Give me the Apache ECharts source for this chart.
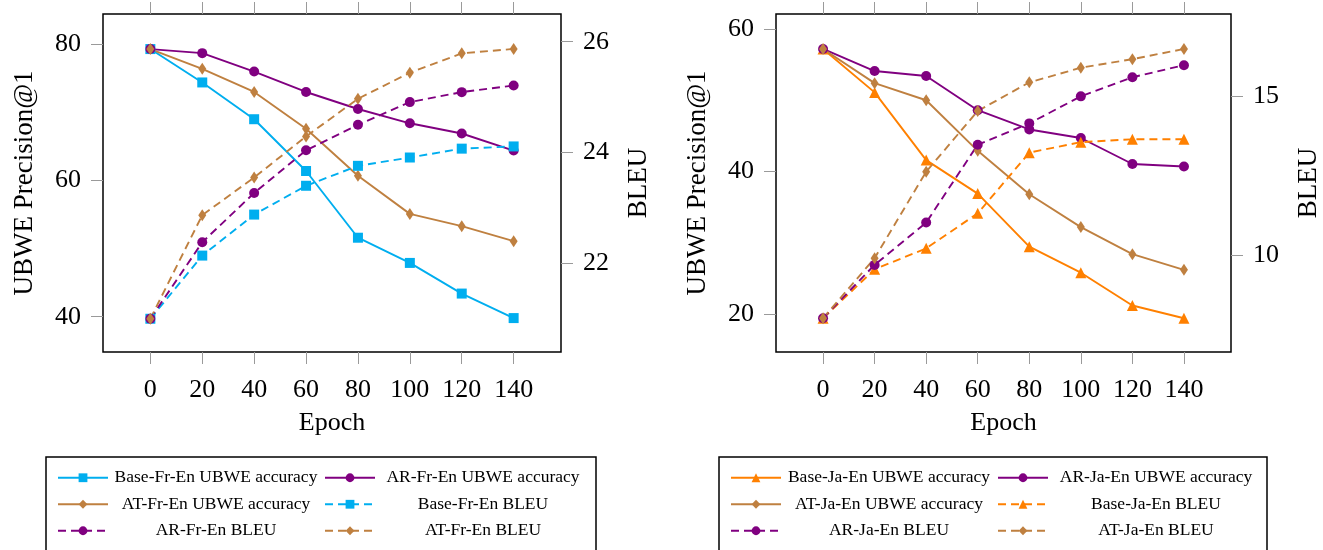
<!DOCTYPE html>
<html>
<head>
<meta charset="utf-8">
<script src="https://cdn.jsdelivr.net/npm/echarts@6/dist/echarts.min.js"></script>
<style>html,body{margin:0;padding:0;background:#fff;}#c{width:1323px;height:550px;}</style>
</head>
<body>
<div id="c"></div>
<script>
// ---- data ----
const epochs = [0, 20, 40, 60, 80, 100, 120, 140];
const xTicks = [0, 20, 40, 60, 80, 100, 120, 140];

const frBaseUBWE = [79.3, 74.4, 69.0, 61.4, 51.6, 47.9, 43.4, 39.8];
const frARUBWE   = [79.3, 78.7, 76.0, 73.0, 70.5, 68.4, 66.9, 64.4];
const frATUBWE   = [79.3, 76.4, 73.0, 67.6, 60.7, 55.1, 53.3, 51.1];
const frBaseBLEU = [21.0, 22.14, 22.88, 23.40, 23.76, 23.91, 24.07, 24.11];
const frARBLEU   = [21.0, 22.38, 23.27, 24.04, 24.50, 24.91, 25.09, 25.21];
const frATBLEU   = [21.0, 22.87, 23.55, 24.29, 24.97, 25.44, 25.79, 25.87];

const jaBaseUBWE = [57.2, 51.1, 41.6, 36.9, 29.45, 25.8, 21.2, 19.4];
const jaARUBWE   = [57.2, 54.1, 53.4, 48.6, 45.9, 44.7, 41.05, 40.7];
const jaATUBWE   = [57.2, 52.4, 50.0, 42.9, 36.8, 32.2, 28.4, 26.2];
const jaBaseBLEU = [8.03, 9.57, 10.23, 11.33, 13.24, 13.57, 13.66, 13.66];
const jaARBLEU   = [8.03, 9.71, 11.04, 13.49, 14.16, 15.01, 15.61, 15.99];
const jaATBLEU   = [8.03, 9.92, 12.64, 14.55, 15.45, 15.91, 16.18, 16.5];

const frLeftTicks = [40, 60, 80];
const frRightTicks = [22, 24, 26];
const jaLeftTicks = [20, 40, 60];
const jaRightTicks = [10, 15];

const frNames = ['Base-Fr-En UBWE accuracy', 'AR-Fr-En UBWE accuracy', 'AT-Fr-En UBWE accuracy',
                 'Base-Fr-En BLEU', 'AR-Fr-En BLEU', 'AT-Fr-En BLEU'];
const jaNames = ['Base-Ja-En UBWE accuracy', 'AR-Ja-En UBWE accuracy', 'AT-Ja-En UBWE accuracy',
                 'Base-Ja-En BLEU', 'AR-Ja-En BLEU', 'AT-Ja-En BLEU'];

// ---- styles ----
const C_BLUE = '#00AEEF', C_PURPLE = '#800080', C_BROWN = '#BF8040', C_ORANGE = '#FF8000';
const FONT = 'Liberation Serif';
const tickStyle = { color: '#9a9a9a', width: 1 };

function pairs(vals) { return epochs.map((e, i) => [e, vals[i]]); }

function mkSeries(name, vals, color, symbol, size, dashed, xi, yi) {
  return {
    type: 'line', name: name, data: pairs(vals),
    xAxisIndex: xi, yAxisIndex: yi,
    symbol: symbol, symbolSize: size,
    lineStyle: { color: color, width: 1.9, type: dashed ? [8, 5] : 'solid' },
    itemStyle: { color: color },
    emphasis: { disabled: true },
    animation: false
  };
}

function xAxes(grid) {
  const base = {
    gridIndex: grid, type: 'value', min: -18.25, max: 158.25,
    axisLine: { show: false, onZero: false }, splitLine: { show: false }
  };
  return [
    Object.assign({}, base, {
      position: 'bottom',
      axisTick: { show: true, length: 12, customValues: xTicks, lineStyle: tickStyle },
      axisLabel: { customValues: xTicks, margin: 25, fontSize: 26, fontFamily: FONT, color: '#000' },
      name: 'Epoch', nameLocation: 'middle', nameGap: 58,
      nameTextStyle: { fontSize: 26, fontFamily: FONT, color: '#000' }
    }),
    Object.assign({}, base, {
      position: 'top',
      axisTick: { show: true, length: 12, customValues: xTicks, lineStyle: tickStyle },
      axisLabel: { show: false }
    })
  ];
}

function yAxis(grid, pos, min, max, ticks, name, gap) {
  return {
    gridIndex: grid, type: 'value', position: pos, min: min, max: max,
    axisLine: { show: false, onZero: false }, splitLine: { show: false },
    axisTick: { show: true, length: 12, customValues: ticks, lineStyle: tickStyle },
    axisLabel: { customValues: ticks, margin: 22, fontSize: 26, fontFamily: FONT, color: '#000' },
    name: name, nameLocation: 'middle', nameGap: gap, nameRotate: 90,
    nameTextStyle: { fontSize: 27, fontFamily: FONT, color: '#000' }
  };
}

function legendCol(names, left) {
  return {
    data: names.map(n => ({ name: n })),
    left: left, top: 468.75,
    orient: 'vertical',
    itemWidth: 50, itemHeight: 11, itemGap: 8.5,
    padding: 0,
    selectedMode: false,
    formatter: n => '{t|' + n + '}',
    textStyle: {
      rich: { t: { width: 206, height: 18.5, align: 'center', fontSize: 17.5, fontFamily: FONT, color: '#000' } }
    }
  };
}

const option = {
  backgroundColor: '#fff',
  animation: false,
  grid: [
    { left: 103, right: 1323 - 561, top: 14, bottom: 550 - 352, show: true, borderColor: '#000', borderWidth: 1.5, containLabel: false },
    { left: 776, right: 1323 - 1232, top: 14, bottom: 550 - 352, show: true, borderColor: '#000', borderWidth: 1.5, containLabel: false }
  ],
  xAxis: [].concat(xAxes(0), xAxes(1)),
  yAxis: [
    yAxis(0, 'left', 34.82, 84.45, frLeftTicks, 'UBWE Precision@1', 65),
    yAxis(0, 'right', 20.4, 26.5, frRightTicks, 'BLEU', 64),
    yAxis(1, 'left', 14.67, 62.1, jaLeftTicks, 'UBWE Precision@1', 65),
    yAxis(1, 'right', 6.97, 17.6, jaRightTicks, 'BLEU', 64)
  ],
  legend: [
    legendCol([frNames[0], frNames[2], frNames[4]], 57),
    legendCol([frNames[1], frNames[3], frNames[5]], 324),
    legendCol([jaNames[0], jaNames[2], jaNames[4]], 730),
    legendCol([jaNames[1], jaNames[3], jaNames[5]], 997)
  ],
  graphic: [
    { type: 'rect', shape: { x: 46, y: 457, width: 550, height: 120 }, style: { fill: 'none', stroke: '#000', lineWidth: 1.5 }, silent: true },
    { type: 'rect', shape: { x: 719, y: 457, width: 548, height: 120 }, style: { fill: 'none', stroke: '#000', lineWidth: 1.5 }, silent: true }
  ],
  series: [
    mkSeries(frNames[0], frBaseUBWE, C_BLUE, 'rect', 10, false, 0, 0),
    mkSeries(frNames[1], frARUBWE, C_PURPLE, 'circle', 10, false, 0, 0),
    mkSeries(frNames[2], frATUBWE, C_BROWN, 'diamond', [8, 12], false, 0, 0),
    mkSeries(frNames[3], frBaseBLEU, C_BLUE, 'rect', 10, true, 0, 1),
    mkSeries(frNames[4], frARBLEU, C_PURPLE, 'circle', 10, true, 0, 1),
    mkSeries(frNames[5], frATBLEU, C_BROWN, 'diamond', [8, 12], true, 0, 1),

    mkSeries(jaNames[0], jaBaseUBWE, C_ORANGE, 'triangle', 11, false, 2, 2),
    mkSeries(jaNames[1], jaARUBWE, C_PURPLE, 'circle', 10, false, 2, 2),
    mkSeries(jaNames[2], jaATUBWE, C_BROWN, 'diamond', [8, 12], false, 2, 2),
    mkSeries(jaNames[3], jaBaseBLEU, C_ORANGE, 'triangle', 11, true, 2, 3),
    mkSeries(jaNames[4], jaARBLEU, C_PURPLE, 'circle', 10, true, 2, 3),
    mkSeries(jaNames[5], jaATBLEU, C_BROWN, 'diamond', [8, 12], true, 2, 3)
  ]
};

const chart = echarts.init(document.getElementById('c'), null, { renderer: 'canvas' });
chart.setOption(option);
</script>
</body>
</html>
